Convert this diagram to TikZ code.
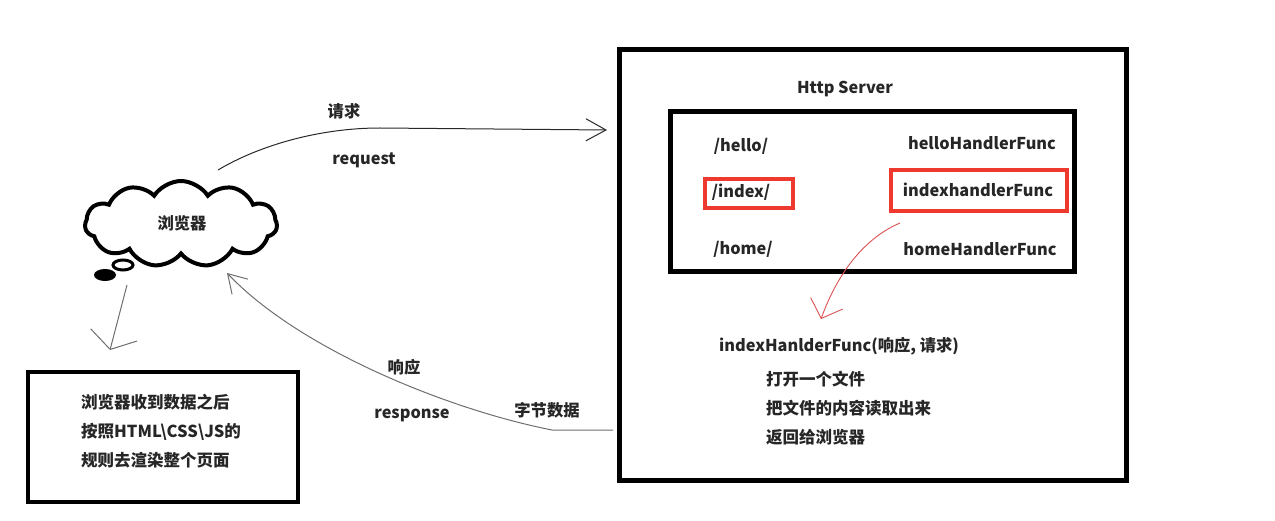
\documentclass[tikz,border=0pt]{standalone}
\usepackage{fontspec}
\setmainfont{Noto Sans CJK SC}
\usetikzlibrary{shapes.symbols,arrows.meta}
\definecolor{hlred}{RGB}{238,58,46}
\definecolor{pen}{RGB}{40,40,40}
\definecolor{penred}{RGB}{220,80,80}
\definecolor{pengray}{RGB}{110,110,110}
\tikzset{
  txt/.style={font=\fontsize{16.3}{18}\selectfont\bfseries, inner sep=0pt, text=black!85},
  listtxt/.style={txt, font=\fontsize{16.5}{29}\selectfont\bfseries, align=left},
  bigbox/.style={draw, line width=5pt, inner sep=0pt},
  hlbox/.style={draw=hlred, line width=3.5pt, inner sep=0pt},
  pencil/.style={line width=1pt, pen},
}
\begin{document}
\begin{tikzpicture}[x=1pt,y=-1pt]
\useasboundingbox (0,0) rectangle (1275,521);
% server boxes
\node[bigbox, minimum width=507pt, minimum height=430pt] (server) at (872.5,265) {};
\node[bigbox, minimum width=404pt, minimum height=160pt] (mux) at (872,192) {};
\node[txt] (title) at (845,89) {Http Server};
\node[txt] (hello) at (741,146) {/hello/};
\node[txt] (hellof) at (982,143) {helloHandlerFunc};
\node[txt] (index) at (741,192) {/index/};
\node[txt] (indexf) at (978,190) {indexhandlerFunc};
\node[txt] (home) at (743,249) {/home/};
\node[txt] (homef) at (980,249) {homeHandlerFunc};
\node[hlbox, minimum width=88pt, minimum height=29pt] (indexbox) at (749,193.5) {};
\node[hlbox, minimum width=176pt, minimum height=41pt] (indexfbox) at (979,190.5) {};
\node[txt, anchor=west] (sig) at (719,346) {indexHanlderFunc(响应, 请求)};
\node[listtxt, anchor=north west] (steps) at (766,371) {打开一个文件\\把文件的内容读取出来\\返回给浏览器};
% red arrow
\coordinate (rs) at (900,223);
\coordinate (re) at (821,319);
\draw[penred, line width=0.9pt, -{Straight Barb[length=16pt,width=34pt,line width=0.9pt]}] (rs) .. controls (860,240) and (835,280) .. (re);
% browser cloud
\node[cloud, draw, line width=4pt, cloud puffs=11, cloud puff arc=115, aspect=2.3, minimum width=192pt, minimum height=86pt, inner sep=0pt] (cloud) at (181,224) {};
\node[txt] (browser) at (182,223) {浏览器};
\draw[line width=3pt] (123,265) ellipse [x radius=10pt, y radius=5pt];
\fill (105,275) ellipse [x radius=11pt, y radius=6pt];
% request
\coordinate (qs) at (218,170);
\coordinate (qe) at (607,130);
\draw[pencil, -{Straight Barb[length=20pt,width=22pt,line width=1pt]}] (qs) .. controls (260,145) and (320,128) .. (380,128) -- (qe);
\node[txt] (qzh) at (344,111) {请求};
\node[txt] (qen) at (364,160) {request};
% response
\coordinate (rps) at (613,430);
\coordinate (rpe) at (227,273);
\draw[line width=1pt, pengray, -{Straight Barb[length=18pt,width=22pt,line width=1pt]}] (rps) -- (552,430) .. controls (450,410) and (300,350) .. (rpe);
\node[txt] (pzh) at (404,367) {响应};
\node[txt] (pen) at (412,415) {response};
\node[txt] (bytes) at (547,410) {字节数据};
% render box
\coordinate (gs) at (127,285);
\coordinate (ge) at (110,350);
\draw[line width=1pt, pengray, -{Straight Barb[length=15pt,width=48pt,line width=1pt]}] (gs) -- (ge);
\node[bigbox, line width=4.5pt, minimum width=270pt, minimum height=130pt] (render) at (163,437) {};
\node[listtxt, anchor=north west] (rtext) at (81,394) {浏览器收到数据之后\\按照HTML\textbackslash CSS\textbackslash JS的\\规则去渲染整个页面};
\end{tikzpicture}
\end{document}
